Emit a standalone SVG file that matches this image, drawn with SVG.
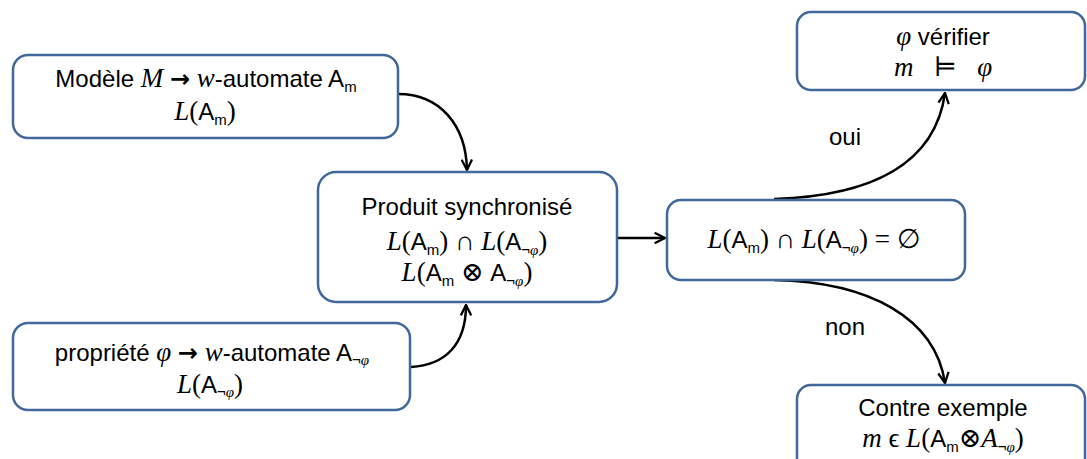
<svg xmlns="http://www.w3.org/2000/svg" width="1087" height="459" viewBox="0 0 1087 459">
<defs>
<style>
.box{fill:#fff;stroke:#41689A;stroke-width:2.5}
.t{font-family:"Liberation Sans",Arial,sans-serif;font-size:24px;fill:#000;text-anchor:middle}
.m{font-family:"Liberation Serif","DejaVu Serif",serif;font-style:italic;font-size:27px}
.mu{font-family:"Liberation Serif","DejaVu Serif",serif;font-size:27px}
.ar{font-family:"DejaVu Sans",sans-serif;font-weight:bold;font-size:24px}
.s{font-size:15px}
.c{fill:none;stroke:#000;stroke-width:2.5}
</style>
<marker id="ah" viewBox="0 0 12 12" refX="11" refY="6" markerWidth="5" markerHeight="5" orient="auto" markerUnits="strokeWidth">
<path d="M1,1 L11,6 L1,11" fill="none" stroke="#000" stroke-width="2.2"/>
</marker>
</defs>
<rect width="1087" height="459" fill="#fff"/>
<g id="connectors">
<path class="c" d="M398,94 C440,94 466,125 467,170" marker-end="url(#ah)"/>
<path class="c" d="M411,367 C445,365 466,345 466,305" marker-end="url(#ah)"/>
<path class="c" d="M617,238 L665,238" marker-end="url(#ah)"/>
<path class="c" d="M774,199 C870,196 935,165 945,93" marker-end="url(#ah)"/>
<path class="c" d="M774,280 C870,282 935,318 945,383" marker-end="url(#ah)"/>
<text class="t" x="845" y="145">oui</text>
<text class="t" x="845" y="335">non</text>
</g>
<g id="n1">
<rect class="box" x="13" y="55" width="385" height="83" rx="15"/>
<text class="t" x="206" y="87">Modèle <tspan class="m">M</tspan> <tspan class="ar">→</tspan> <tspan class="m">w</tspan>-automate A<tspan class="s" dy="5">m</tspan></text>
<text class="t" x="205" y="120"><tspan class="m">L</tspan><tspan class="mu">(</tspan>A<tspan class="s" dy="5">m</tspan><tspan class="mu" dy="-5">)</tspan></text>
</g>
<g id="n2">
<rect class="box" x="13" y="323" width="397" height="87" rx="15"/>
<text class="t" x="212" y="361">propriété <tspan class="m">φ</tspan> <tspan class="ar">→</tspan> <tspan class="m">w</tspan>-automate A<tspan class="s" dy="4">¬<tspan class="m s">φ</tspan></tspan></text>
<text class="t" x="210" y="393"><tspan class="m">L</tspan><tspan class="mu">(</tspan>A<tspan class="s" dy="4">¬<tspan class="m s">φ</tspan></tspan><tspan class="mu" dy="-4">)</tspan></text>
</g>
<g id="n3">
<rect class="box" x="318" y="172" width="299" height="130" rx="18"/>
<text class="t" x="467" y="215">Produit synchronisé</text>
<text class="t" x="467" y="250"><tspan class="m">L</tspan><tspan class="mu">(</tspan>A<tspan class="s" dy="5">m</tspan><tspan class="mu" dy="-5">)</tspan>  <tspan class="mu">∩</tspan> <tspan class="m">L</tspan><tspan class="mu">(</tspan>A<tspan class="s" dy="5">¬<tspan class="m s">φ</tspan></tspan><tspan class="mu" dy="-5">)</tspan></text>
<text class="t" x="467" y="281"><tspan class="m">L</tspan><tspan class="mu">(</tspan>A<tspan class="s" dy="5">m</tspan><tspan class="mu" dy="-5"> ⊗ </tspan>A<tspan class="s" dy="5">¬<tspan class="m s">φ</tspan></tspan><tspan class="mu" dy="-5">)</tspan></text>
</g>
<g id="n4">
<rect class="box" x="667" y="200" width="298" height="80" rx="14"/>
<text class="t" x="814" y="248"><tspan class="m">L</tspan><tspan class="mu">(</tspan>A<tspan class="s" dy="5">m</tspan><tspan class="mu" dy="-5">)</tspan>  <tspan class="mu">∩</tspan> <tspan class="m">L</tspan><tspan class="mu">(</tspan>A<tspan class="s" dy="5">¬<tspan class="m s">φ</tspan></tspan><tspan class="mu" dy="-5">) = ∅</tspan></text>
</g>
<g id="n5">
<rect class="box" x="797" y="12" width="288" height="78" rx="14"/>
<text class="t" x="943" y="45"><tspan class="m">φ</tspan> vérifier</text>
<text class="t" x="943" y="76" xml:space="preserve"><tspan class="m">m</tspan><tspan class="mu">   ⊨   </tspan><tspan class="m">φ</tspan></text>
</g>
<g id="n6">
<rect class="box" x="797" y="385" width="288" height="90" rx="14"/>
<text class="t" x="943" y="416">Contre exemple</text>
<text class="t" x="943" y="447"><tspan class="m">m</tspan><tspan class="mu"> ϵ </tspan><tspan class="m">L</tspan><tspan class="mu">(</tspan>A<tspan class="s" dy="5">m</tspan><tspan class="mu" dy="-5">⊗</tspan><tspan class="m">A</tspan><tspan class="s" dy="5">¬<tspan class="m s">φ</tspan></tspan><tspan class="mu" dy="-5">)</tspan></text>
</g>
</svg>
